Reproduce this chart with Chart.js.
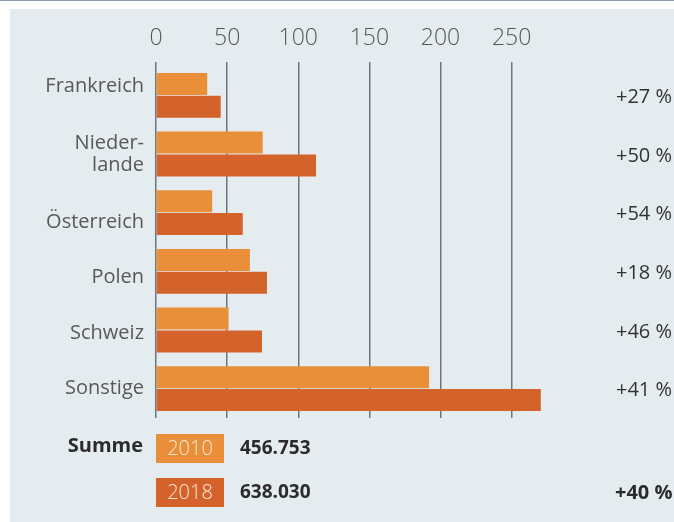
<!DOCTYPE html>
<html lang="de">
<head>
<meta charset="utf-8">
<title>Exporte nach Zielland</title>
<script src="https://cdn.jsdelivr.net/npm/chart.js@4.4.1/dist/chart.umd.min.js"></script>
<style>
  html, body { margin: 0; padding: 0; background: #fff; }
  #wrap { position: relative; width: 674px; height: 522px; overflow: hidden; }
  #topline { position: absolute; left: 0; top: 0; width: 674px; height: 1px; background: #8c9ba7; }
  #panel { position: absolute; left: 10px; top: 9px; right: 0; bottom: 0; background: #e5ecf0; }
  #myChart { position: absolute; left: 0; top: 0; }
</style>
</head>
<body>
<div id="wrap">
  <div id="topline"></div>
  <div id="panel"></div>
  <canvas id="myChart" width="674" height="522"></canvas>
</div>
<script>
// Länder und Werte (Tsd.)
const laender = ['Frankreich', ['Nieder-', 'lande'], 'Österreich', 'Polen', 'Schweiz', 'Sonstige'];
const werte2010 = [36, 75, 39.5, 66, 51, 192];
const werte2018 = [45.5, 112.5, 61, 78, 74.5, 270.5];
const zuwachs = ['+27 %', '+50 %', '+54 %', '+18 %', '+46 %', '+41 %'];
const jahre = ['2010', '2018'];
const summen = ['456.753', '638.030'];
const zuwachsGesamt = '+40 %';
const xTicks = [0, 50, 100, 150, 200, 250];

const farben = ['#e98f3a', '#d4622b'];
const schrift = '"Open Sans", "DejaVu Sans", sans-serif';
// Ländernamen sitzen nicht ganz mittig zu ihren Balken
const labelVersatz = [-9, 0, 10, 6, 3, 0];

// Ländernamen links, Prozentwerte rechts und Summenzeile unten
const zusatzText = {
    id: 'zusatzText',
    afterDraw(chart) {
        const c = chart.ctx;
        const yScale = chart.scales.y;
        c.save();
        c.textBaseline = 'middle';

        c.font = '400 20px ' + schrift;
        c.fillStyle = '#585858';
        c.textAlign = 'right';
        chart.data.labels.forEach((lab, i) => {
            const zeilen = Array.isArray(lab) ? lab : [lab];
            const mitte = yScale.getPixelForValue(i) + labelVersatz[i];
            zeilen.forEach((z, k) => {
                c.fillText(z, 144, mitte + (k - (zeilen.length - 1) / 2) * 22);
            });
        });

        c.fillStyle = '#333333';
        c.textAlign = 'left';
        zuwachs.forEach((t, i) => {
            c.fillText(t, 616, yScale.getPixelForValue(i) + 2);
        });

        // Summe
        c.font = '700 20px ' + schrift;
        c.fillStyle = '#2b2b2b';
        c.textAlign = 'right';
        c.fillText('Summe', 143, 446);

        const boxY = [434, 478];
        jahre.forEach((j, i) => {
            c.fillStyle = chart.data.datasets[i].backgroundColor;
            c.fillRect(156, boxY[i], 68, 29);
            c.font = '300 20px ' + schrift;
            c.fillStyle = '#fbe6d3';
            c.textAlign = 'center';
            c.fillText(j, 190, boxY[i] + 15);
            c.font = '700 19px ' + schrift;
            c.fillStyle = '#2b2b2b';
            c.textAlign = 'left';
            c.fillText(summen[i], 240, boxY[i] + 15);
        });

        c.font = '700 20px ' + schrift;
        c.fillText(zuwachsGesamt, 615, boxY[1] + 15);
        c.restore();
    }
};

const ctx = document.getElementById('myChart').getContext('2d');
const chart = new Chart(ctx, {
    type: 'bar',
    data: {
        labels: laender,
        datasets: [{
            label: jahre[0],
            data: werte2010,
            backgroundColor: farben[0]
        }, {
            label: jahre[1],
            data: werte2018,
            backgroundColor: farben[1]
        }]
    },
    options: {
        indexAxis: 'y',
        responsive: false,
        animation: false,
        devicePixelRatio: 1,
        categoryPercentage: 0.78,
        barPercentage: 0.96,
        layout: { padding: { left: 0, top: 0, right: 114, bottom: 104 } },
        plugins: {
            legend: { display: false },
            tooltip: { enabled: false }
        },
        scales: {
            x: {
                position: 'top',
                min: 0,
                max: 284,
                afterBuildTicks(scale) {
                    scale.ticks = xTicks.map(v => ({ value: v }));
                },
                afterFit(scale) { scale.height = 66; },
                border: { display: false },
                grid: { color: '#6f767b', lineWidth: 1.5, tickLength: 4 },
                ticks: {
                    color: '#555555',
                    padding: 10,
                    font: { family: schrift, size: 23, weight: '300' }
                }
            },
            y: {
                afterFit(scale) { scale.width = 156; },
                border: { display: false },
                grid: { display: false },
                ticks: { display: false }
            }
        }
    },
    plugins: [zusatzText]
});
</script>
</body>
</html>
